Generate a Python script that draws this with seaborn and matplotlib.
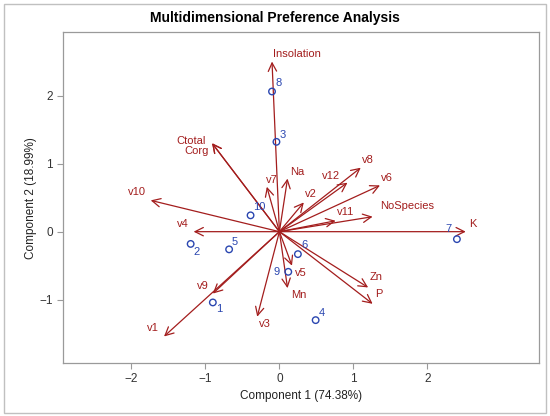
import numpy as np
import pandas as pd
import seaborn as sns
import matplotlib.pyplot as plt
from matplotlib.patches import Rectangle

# variable loadings (arrows)
variables = ['Insolation', 'Ctotal', 'Corg', 'v7', 'Na', 'v10', 'v4', 'v8', 'v12', 'v6',
             'v2', 'NoSpecies', 'v11', 'K', 'v9', 'v1', 'v3', 'v5', 'Mn', 'Zn', 'P']
var_x = [-0.10, -0.91, -0.91, -0.17, 0.11, -1.74, -1.16, 1.10, 0.92, 1.36,
         0.33, 1.26, 0.76, 2.52, -0.90, -1.56, -0.30, 0.17, 0.11, 1.20, 1.26]
var_y = [2.50, 1.30, 1.30, 0.66, 0.78, 0.46, 0.00, 0.94, 0.72, 0.68,
         0.43, 0.22, 0.16, 0.00, -0.91, -1.54, -1.25, -0.50, -0.83, -0.82, -1.06]

# observation scores (points)
obs = ['1', '2', '3', '4', '5', '6', '7', '8', '9', '10']
obs_x = [-0.90, -1.20, -0.04, 0.49, -0.68, 0.25, 2.40, -0.10, 0.12, -0.39]
obs_y = [-1.04, -0.18, 1.32, -1.30, -0.26, -0.33, -0.11, 2.06, -0.59, 0.24]

xlab = 'Component 1 (74.38%)'
ylab = 'Component 2 (18.99%)'
title = 'Multidimensional Preference Analysis'

# label placement offsets in pixels (dx, dy up), text centred
var_off = {'Insolation': (25, 8), 'Ctotal': (-21, 2), 'Corg': (-16, -8), 'v7': (5, 7),
           'Na': (10, 7), 'v10': (-14, 8), 'v4': (-11, 8), 'v8': (7, 8), 'v12': (-16, 7),
           'v6': (7, 7), 'v2': (7, 8), 'NoSpecies': (35, 11), 'v11': (10, 9), 'K': (7, 8),
           'v9': (-10, 8), 'v1': (-11, 8), 'v3': (8, -7), 'v5': (9, -7), 'Mn': (11, -7),
           'Zn': (8, 10), 'P': (6, 10)}
obs_off = {'1': (6, -7), '2': (6, -8), '3': (6, 7), '4': (6, 7), '5': (6, 7), '6': (7, 9),
           '7': (-8, 10), '8': (7, 8), '9': (-12, 0), '10': (9, 8)}

sns.set_style('white')
plt.rcParams['font.family'] = ['Liberation Sans', 'DejaVu Sans']

red = '#a31d1d'
blue = '#2a46b0'
grey = '#9a9a9a'

fig = plt.figure(figsize=(5.5, 4.16), dpi=100)
ax = fig.add_axes([62.7 / 550, 1 - 363 / 416, (539 - 62.7) / 550, (363 - 32.3) / 416])

for name, x, y in zip(variables, var_x, var_y):
    ax.annotate('', xy=(x, y), xytext=(0, 0),
                arrowprops=dict(arrowstyle='->,head_length=0.6,head_width=0.3',
                                color=red, lw=0.9, shrinkA=0, shrinkB=0))
    dx, dy = var_off[name]
    ax.annotate(name, xy=(x, y), xytext=(dx, dy), textcoords='offset pixels',
                ha='center', va='center', color=red, fontsize=8)

df = pd.DataFrame({'x': obs_x, 'y': obs_y, 'obs': obs})
sns.scatterplot(data=df, x='x', y='y', ax=ax, marker='o', s=22,
                facecolors='none', edgecolor=blue, linewidth=1.0, zorder=3)
for name, x, y in zip(obs, obs_x, obs_y):
    dx, dy = obs_off[name]
    ax.annotate(name, xy=(x, y), xytext=(dx, dy), textcoords='offset pixels',
                ha='center', va='center', color=blue, fontsize=8)

ax.set_xlim(-2.93, 3.51)
ax.set_ylim(-1.93, 2.93)
ax.set_xticks([-2, -1, 0, 1, 2])
ax.set_yticks([-1, 0, 1, 2])
ax.set_xticklabels(['\u22122', '\u22121', '0', '1', '2'])
ax.set_yticklabels(['\u22121', '0', '1', '2'])
ax.tick_params(direction='out', length=4, width=0.8, color=grey,
               labelsize=8.5, labelcolor='#333333', pad=3)
ax.xaxis.set_ticks_position('bottom')
ax.yaxis.set_ticks_position('left')
for sp in ax.spines.values():
    sp.set_color(grey)
    sp.set_linewidth(0.9)
ax.set_xlabel(xlab, fontsize=8.5, color='#222222', labelpad=4)
ax.set_ylabel(ylab, fontsize=8.5, color='#222222', labelpad=2)

fig.text(0.5, 1 - 18 / 416, title, ha='center', va='center',
         fontsize=10, fontweight='bold', color='black')
fig.patches.append(Rectangle((4 / 550, 3 / 416), 542 / 550, 409 / 416,
                             transform=fig.transFigure, fill=False,
                             edgecolor='#c0c0c0', linewidth=1.0))

fig.savefig('out.png', dpi=100)
